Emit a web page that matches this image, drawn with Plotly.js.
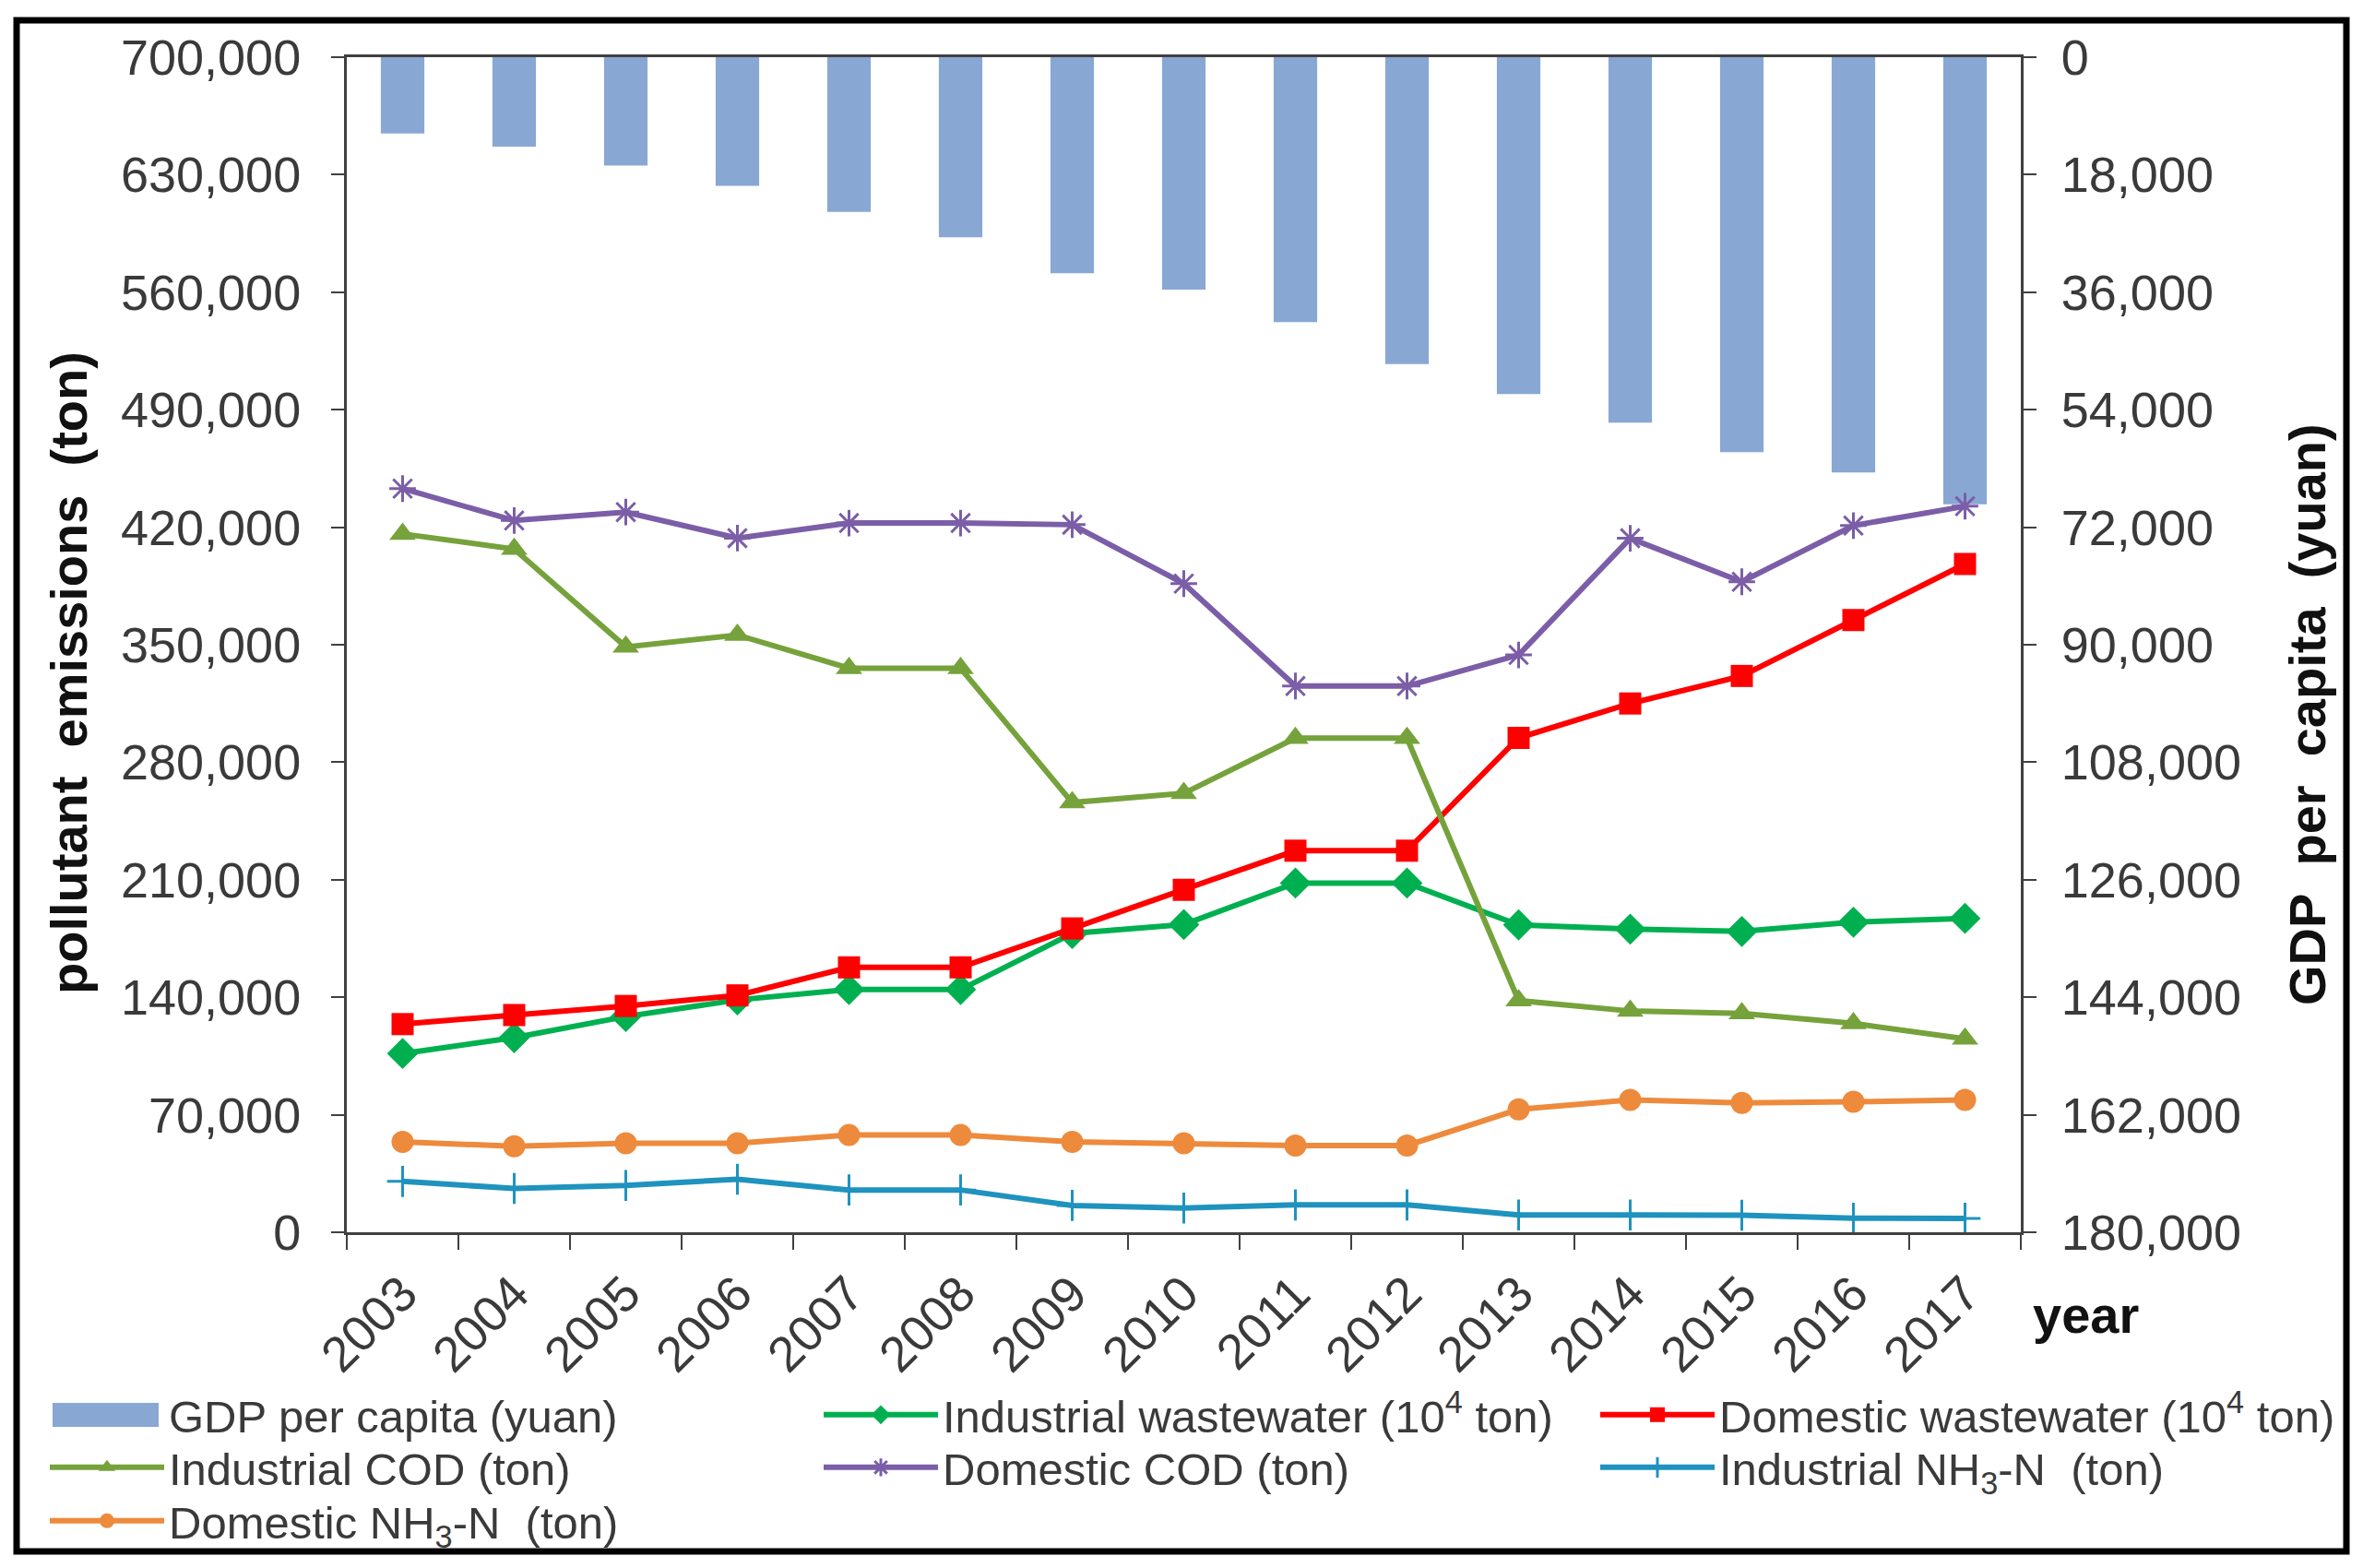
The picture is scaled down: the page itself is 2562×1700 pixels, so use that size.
<!DOCTYPE html>
<html>
<head>
<meta charset="utf-8">
<script src="https://cdn.plot.ly/plotly-3.0.1.min.js"></script>
<style>
  html, body { margin: 0; padding: 0; background: #ffffff; }
  #chart { width: 2562px; height: 1700px; }
</style>
</head>
<body>
<div id="chart"></div>
<script>
let years = ['2003', '2004', '2005', '2006', '2007', '2008', '2009', '2010', '2011', '2012', '2013', '2014', '2015', '2016', '2017'];

// GDP per capita (yuan), right axis, reversed
let gdpPerCapita = [11700, 13700, 16600, 19700, 23700, 27600, 33100, 35600, 40600, 47000, 51600, 56000, 60500, 63600, 68500];

// pollutant emissions, left axis
let industrialWastewater = [106500, 115900, 128500, 138400, 144600, 144600, 178000, 183300, 208000, 208000, 183100, 180600, 179200, 184700, 187000];
let domesticWastewater = [124000, 129400, 134800, 141100, 157800, 157800, 181000, 204000, 227300, 227300, 294500, 315000, 331400, 364700, 398100];
let industrialCOD = [416000, 407000, 348700, 355800, 336000, 336000, 256000, 261500, 294300, 294300, 138000, 131800, 130400, 124400, 115200];
let domesticCOD = [443000, 424000, 429000, 413500, 422500, 422500, 421500, 386400, 325400, 325400, 343900, 413400, 387500, 421000, 432500];
let industrialNH3N = [30300, 26100, 27900, 31600, 25200, 25200, 16000, 14400, 16300, 16300, 10300, 10300, 10200, 8400, 8300];
let domesticNH3N = [53900, 51200, 53000, 53000, 57900, 57900, 53900, 53000, 51700, 51700, 73200, 78900, 77000, 77700, 78800];

let leftTicks = [0, 70000, 140000, 210000, 280000, 350000, 420000, 490000, 560000, 630000, 700000];
let rightTicks = [0, 18000, 36000, 54000, 72000, 90000, 108000, 126000, 144000, 162000, 180000];

let W = 2562;
let H = 1700;
let margin = { l: 376, r: 371, t: 62, b: 364, autoexpand: false };
let plotW = W - margin.l - margin.r;
let plotH = H - margin.t - margin.b;

// convert page pixels to paper coords
let px = function (x) { return (x - margin.l) / plotW; };
let py = function (y) { return (H - margin.b - y) / plotH; };

let fontFamily = '"Liberation Sans", Arial, sans-serif';
let textColor = '#3a3a3a';
let axisColor = '#404040';
let barColor = '#88A8D3';

// legend grid: 3 columns, 3 rows below the plot
let legendCols = [49, 888, 1730];
let legendRows = [1534, 1591, 1649];

let makeLine = function (name, values, color, symbol, size, lineMarker, legendId) {
    let marker = { symbol: symbol, size: size, color: color };
    if (lineMarker) {
        marker.line = { color: color, width: 3 };
    }
    return {
        x: years,
        y: values,
        name: name,
        type: 'scatter',
        mode: 'lines+markers',
        yaxis: 'y2',
        legend: legendId,
        line: { color: color, width: 6 },
        marker: marker,
    };
};

let gdpData = {
    x: years,
    y: gdpPerCapita,
    name: 'GDP per capita (yuan)',
    type: 'bar',
    yaxis: 'y',
    legend: 'legend',
    width: 0.39,
    marker: { color: barColor },
};

let traces = [
    gdpData,
    makeLine('Industrial wastewater (10<sup>4</sup> ton)', industrialWastewater, '#00B050', 'diamond', 26, false, 'legend2'),
    makeLine('Domestic wastewater (10<sup>4</sup> ton)', domesticWastewater, '#FF0000', 'square', 24, false, 'legend3'),
    makeLine('Industrial COD (ton)', industrialCOD, '#76A23B', 'triangle-up', 25, false, 'legend4'),
    makeLine('Domestic COD (ton)', domesticCOD, '#7B5EA7', 'asterisk-open', 24, true, 'legend5'),
    makeLine('Industrial NH<sub>3</sub>-N  (ton)', industrialNH3N, '#1F93BE', 'cross-thin-open', 24, true, 'legend6'),
    makeLine('Domestic NH<sub>3</sub>-N  (ton)', domesticNH3N, '#EE8A3C', 'circle', 24, false, 'legend7'),
];

let tickFont = { family: fontFamily, size: 54, color: textColor };
let titleFont = { family: fontFamily, size: 56, color: '#111111', weight: 'bold' };
let legendFont = { family: fontFamily, size: 49, color: textColor };

let makeLegend = function (i) {
    return {
        orientation: 'v',
        x: px(legendCols[i % 3]),
        y: py(legendRows[Math.floor(i / 3)]),
        xanchor: 'left',
        yanchor: 'middle',
        font: legendFont,
        itemwidth: 124,
        bgcolor: 'rgba(0,0,0,0)',
    };
};

let layout = {
    width: W,
    height: H,
    margin: margin,
    paper_bgcolor: '#ffffff',
    plot_bgcolor: '#ffffff',
    showlegend: true,
    xaxis: {
        type: 'category',
        range: [-0.5, years.length - 0.5],
        automargin: false,
        showline: true,
        linecolor: axisColor,
        linewidth: 3,
        mirror: true,
        ticks: 'outside',
        tickson: 'boundaries',
        ticklen: 16,
        tickwidth: 2,
        tickcolor: axisColor,
        tickangle: -45,
        tickfont: tickFont,
        ticklabelstandoff: 10,
        showgrid: false,
        zeroline: false,
    },
    yaxis: {
        side: 'right',
        automargin: false,
        range: [180000, 0],
        tickvals: rightTicks,
        tickformat: ',d',
        showline: true,
        linecolor: axisColor,
        linewidth: 3,
        ticks: 'outside',
        ticklen: 14,
        tickwidth: 2,
        tickcolor: axisColor,
        tickfont: tickFont,
        ticklabelstandoff: 16,
        showgrid: false,
        zeroline: false,
    },
    yaxis2: {
        side: 'left',
        overlaying: 'y',
        automargin: false,
        range: [0, 700000],
        tickvals: leftTicks,
        tickformat: ',d',
        showline: true,
        linecolor: axisColor,
        linewidth: 3,
        ticks: 'outside',
        ticklen: 14,
        tickwidth: 2,
        tickcolor: axisColor,
        tickfont: tickFont,
        ticklabelstandoff: 22,
        showgrid: false,
        zeroline: false,
    },
    legend: makeLegend(0),
    legend2: makeLegend(1),
    legend3: makeLegend(2),
    legend4: makeLegend(3),
    legend5: makeLegend(4),
    legend6: makeLegend(5),
    legend7: makeLegend(6),
    annotations: [
        {
            text: 'pollutant  emissions  (ton)',
            xref: 'paper', yref: 'paper',
            x: px(74), y: py(730),
            xanchor: 'center', yanchor: 'middle',
            textangle: -90,
            showarrow: false,
            font: titleFont,
        },
        {
            text: 'GDP  per  capita  (yuan)',
            xref: 'paper', yref: 'paper',
            x: px(2502), y: py(775),
            xanchor: 'center', yanchor: 'middle',
            textangle: -90,
            showarrow: false,
            font: titleFont,
        },
        {
            text: 'year',
            xref: 'paper', yref: 'paper',
            x: px(2261), y: py(1426),
            xanchor: 'center', yanchor: 'middle',
            showarrow: false,
            font: titleFont,
        },
    ],
    shapes: [
        {
            // outer frame
            type: 'rect',
            xref: 'paper', yref: 'paper',
            x0: px(18), x1: px(2544),
            y0: py(1682), y1: py(22),
            line: { color: '#000000', width: 7 },
            fillcolor: 'rgba(0,0,0,0)',
        },
        {
            // wide legend swatch for the bar series
            type: 'rect',
            xref: 'paper', yref: 'paper',
            x0: px(57), x1: px(172),
            y0: py(1547), y1: py(1521),
            line: { width: 0 },
            fillcolor: barColor,
        },
    ],
};

Plotly.newPlot('chart', traces, layout, { displayModeBar: false, staticPlot: true });
</script>
</body>
</html>
